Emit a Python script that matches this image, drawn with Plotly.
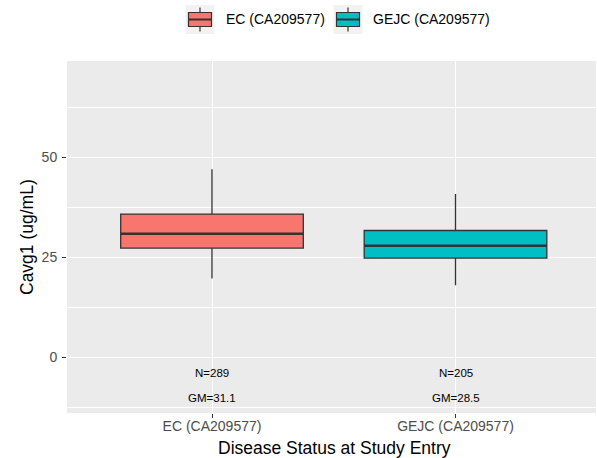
import plotly.graph_objects as go

# ---- data ----
categories = ["EC (CA209577)", "GEJC (CA209577)"]
q1 = [27.3, 24.8]
median = [30.9, 27.9]
q3 = [35.8, 31.7]
lower_whisker = [19.7, 18.0]
upper_whisker = [47.0, 40.8]
n_labels = ["N=289", "N=205"]
gm_labels = ["GM=31.1", "GM=28.5"]
colors = ["#F8766D", "#00BFC4"]
y_ticks = [0, 25, 50]

# ---- layout geometry (pixels) ----
W, H = 597, 458
L, R, T, B = 67, 596, 61, 413
FONT = "Liberation Sans, Arial, sans-serif"

def px_x(p):
    return (p - L) / (R - L)

def px_y(p):
    return (B - p) / (B - T)

fig = go.Figure()
box_w = 0.75
for i, cat in enumerate(categories):
    fig.add_trace(go.Box(
        x=[i], q1=[q1[i]], median=[median[i]], q3=[q3[i]],
        lowerfence=[lower_whisker[i]], upperfence=[upper_whisker[i]],
        width=box_w, whiskerwidth=0, boxpoints=False,
        fillcolor=colors[i], line=dict(color="#333333", width=1.3),
        name=cat, showlegend=False, hoverinfo="skip",
    ))
    fig.add_trace(go.Scatter(
        x=[i - box_w / 2, i + box_w / 2], y=[median[i], median[i]],
        mode="lines", line=dict(color="#333333", width=2.6),
        showlegend=False, hoverinfo="skip",
    ))
    fig.add_annotation(x=i, y=-4.0, xref="x", yref="y", text=n_labels[i],
                       showarrow=False, xanchor="center", yanchor="middle",
                       font=dict(family=FONT, size=11.5, color="black"))
    fig.add_annotation(x=i, y=-10.1, xref="x", yref="y", text=gm_labels[i],
                       showarrow=False, xanchor="center", yanchor="middle",
                       font=dict(family=FONT, size=11.5, color="black"))

# ---- manual legend (ggplot style) ----
key_centers = [200, 348]
for i, cat in enumerate(categories):
    kc = key_centers[i]
    fig.add_shape(type="rect", xref="paper", yref="paper",
                  x0=px_x(kc - 14.5), x1=px_x(kc + 14.5), y0=px_y(34), y1=px_y(5),
                  fillcolor="#F2F2F2", line=dict(width=0), layer="above")
    for (a, b) in [(7.5, 12.5), (26.5, 31.5)]:
        fig.add_shape(type="line", xref="paper", yref="paper",
                      x0=px_x(kc), x1=px_x(kc), y0=px_y(a), y1=px_y(b),
                      line=dict(color="#333333", width=1.2), layer="above")
    fig.add_shape(type="rect", xref="paper", yref="paper",
                  x0=px_x(kc - 11.5), x1=px_x(kc + 11.5), y0=px_y(26.5), y1=px_y(12.5),
                  fillcolor=colors[i], line=dict(color="#333333", width=1.2), layer="above")
    fig.add_shape(type="line", xref="paper", yref="paper",
                  x0=px_x(kc - 11.5), x1=px_x(kc + 11.5), y0=px_y(19.5), y1=px_y(19.5),
                  line=dict(color="#333333", width=2), layer="above")
    fig.add_annotation(x=px_x(kc + 23.5), y=px_y(19.5), xref="paper", yref="paper",
                       text=cat, showarrow=False, xanchor="left", yanchor="middle",
                       font=dict(family=FONT, size=14, color="black"))

# axis titles
fig.add_annotation(x=px_x(27), y=px_y((T + B) / 2), xref="paper", yref="paper",
                   text="Cavg1 (ug/mL)", textangle=-90, showarrow=False,
                   xanchor="center", yanchor="middle",
                   font=dict(family=FONT, size=17.5, color="black"))
fig.add_annotation(x=px_x(334), y=px_y(448), xref="paper", yref="paper",
                   text="Disease Status at Study Entry", showarrow=False,
                   xanchor="center", yanchor="middle",
                   font=dict(family=FONT, size=17.5, color="black"))

x0 = 0 - (212 - L) / 243.5
x1 = 1 + (R - 455.5) / 243.5
fig.update_layout(
    width=W, height=H,
    margin=dict(l=L, r=W - R, t=T, b=H - B, pad=0),
    paper_bgcolor="white", plot_bgcolor="#EBEBEB",
    boxmode="overlay",
    font=dict(family=FONT),
    xaxis=dict(range=[x0, x1], tickvals=list(range(len(categories))), ticktext=categories,
               showgrid=True, gridcolor="white", gridwidth=1.1, zeroline=False,
               ticks="outside", ticklen=4, tickcolor="#333333", tickwidth=1.1,
               ticklabelstandoff=-4,
               tickfont=dict(family=FONT, size=14, color="#4D4D4D"), fixedrange=True),
    yaxis=dict(range=[(357.3 - B) / 4.0, (357.3 - T) / 4.0], tickvals=y_ticks,
               showgrid=True, gridcolor="white", gridwidth=1.1, zeroline=False,
               ticks="outside", ticklen=4, tickcolor="#333333", tickwidth=1.1,
               ticklabelstandoff=2,
               tickfont=dict(family=FONT, size=14, color="#4D4D4D"),
               minor=dict(dtick=12.5, tick0=0, showgrid=True, gridcolor="white", gridwidth=0.55),
               fixedrange=True),
)

fig.write_html("out.html")
